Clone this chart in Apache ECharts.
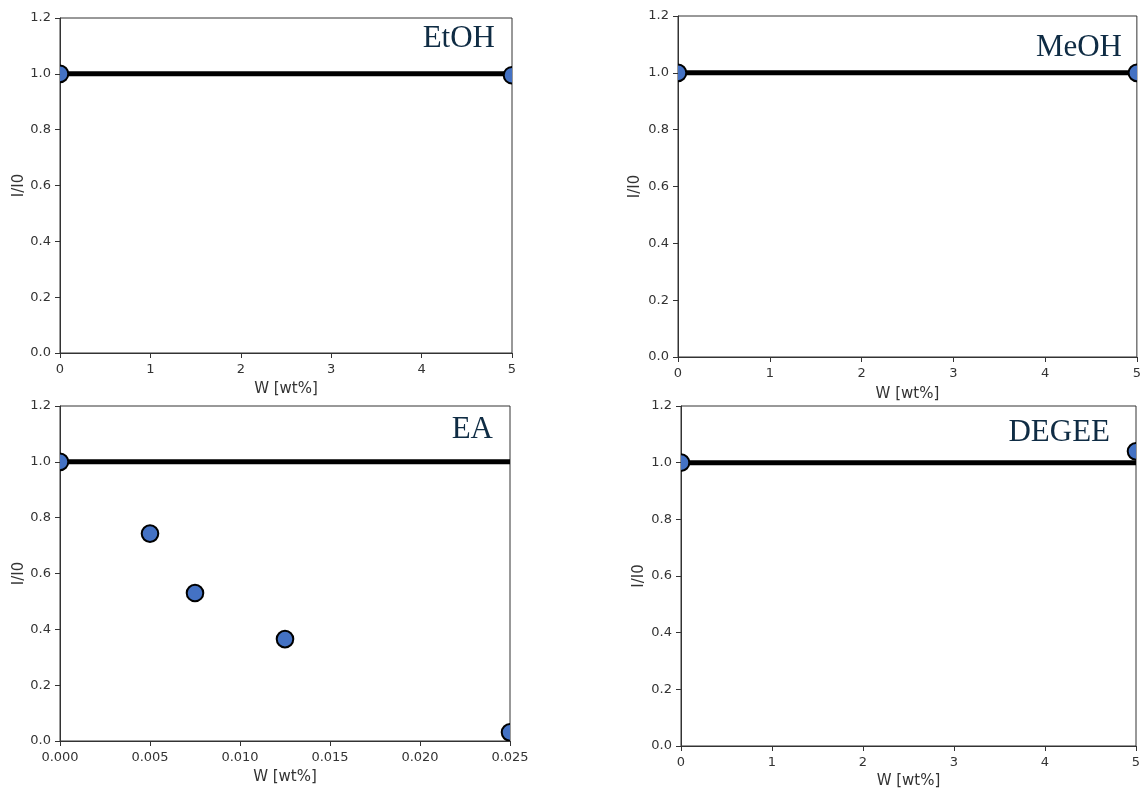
<!DOCTYPE html>
<html>
<head>
<meta charset="utf-8">
<script src="https://cdn.jsdelivr.net/npm/echarts@6/dist/echarts.min.js"></script>
<style>
html,body{margin:0;padding:0;background:#fff;}
#c{width:1144px;height:791px;}
</style>
</head>
<body>
<div id="c"></div>
<script>
// ---- data ----
const panelNames = ['EtOH', 'MeOH', 'EA', 'DEGEE'];
const etohX = [0, 5];
const etohY = [1.0, 0.995];
const meohX = [0, 5];
const meohY = [1.0, 1.0];
const eaX = [0, 0.005, 0.0075, 0.0125, 0.025];
const eaY = [1.0, 0.743, 0.53, 0.365, 0.031];
const degeeX = [0, 5];
const degeeY = [1.0, 1.04];
const refLevel = 1.0;
const xMaxWt = 5, xIntervalWt = 1;
const xMaxEA = 0.025, xIntervalEA = 0.005;
const yMax = 1.2, yInterval = 0.2;
const xName = 'W [wt%]';
const yName = 'I/I0';

// ---- layout ----
const grids = [
  {left: 60, top: 18, width: 452, height: 335},
  {left: 678, top: 16, width: 460, height: 341},
  {left: 60, top: 406, width: 450, height: 335},
  {left: 681, top: 406, width: 455, height: 340}
];
const xNameGaps = [29, 30, 29, 28];
const yNameGaps = [33, 35, 33, 34];
const titlePos = [[495, 39], [1122, 48], [493, 430], [1110, 432.5]];

const panelX = [etohX, meohX, eaX, degeeX];
const panelY = [etohY, meohY, eaY, degeeY];
const panelXMax = [xMaxWt, xMaxWt, xMaxEA, xMaxWt];
const panelXInt = [xIntervalWt, xIntervalWt, xIntervalEA, xIntervalWt];
const panelXDec = [0, 0, 3, 0];

const axisColor = '#333';
const labelFont = 'DejaVu Sans';

const option = {
  animation: false,
  backgroundColor: '#fff',
  grid: grids.map(g => Object.assign({show: true, borderColor: axisColor, borderWidth: 1, backgroundColor: 'transparent'}, g)),
  xAxis: grids.map((g, i) => ({
    type: 'value', gridIndex: i, min: 0, max: panelXMax[i], interval: panelXInt[i],
    name: xName, nameLocation: 'middle', nameGap: xNameGaps[i],
    nameTextStyle: {fontFamily: labelFont, fontSize: 15, color: axisColor},
    axisLine: {show: true, lineStyle: {color: axisColor, width: 1}},
    axisTick: {show: true, length: 5, inside: false, lineStyle: {color: axisColor}},
    axisLabel: {fontFamily: labelFont, fontSize: 13, color: axisColor, margin: 10,
      formatter: v => Number(v).toFixed(panelXDec[i])},
    splitLine: {show: false}
  })),
  yAxis: grids.map((g, i) => ({
    type: 'value', gridIndex: i, min: 0, max: yMax, interval: yInterval,
    name: yName, nameLocation: 'middle', nameGap: yNameGaps[i],
    nameTextStyle: {fontFamily: labelFont, fontSize: 15, color: axisColor},
    axisLine: {show: true, lineStyle: {color: axisColor, width: 1}},
    axisTick: {show: true, length: 5, inside: false, lineStyle: {color: axisColor}},
    axisLabel: {fontFamily: labelFont, fontSize: 13, color: axisColor, margin: 9,
      formatter: v => Number(v).toFixed(1)},
    splitLine: {show: false}
  })),
  graphic: panelNames.map((n, i) => ({
    type: 'text', x: titlePos[i][0], y: titlePos[i][1], z: 100,
    style: {text: n, fontFamily: 'Liberation Serif', fontSize: 31, fill: '#0f2c44',
      align: 'right', verticalAlign: 'middle'}
  })),
  series: []
};

panelNames.forEach((n, i) => {
  option.series.push({
    type: 'line', xAxisIndex: i, yAxisIndex: i, symbol: 'none', z: 2,
    lineStyle: {color: '#000', width: 5},
    data: [[0, refLevel], [panelXMax[i], refLevel]]
  });
  option.series.push({
    type: 'custom', xAxisIndex: i, yAxisIndex: i, clip: true, z: 3,
    data: panelX[i].map((x, k) => [x, panelY[i][k]]),
    renderItem: (params, api) => {
      const p = api.coord([api.value(0), api.value(1)]);
      return {type: 'circle', shape: {cx: p[0], cy: p[1], r: 8.3},
        style: {fill: '#4472c4', stroke: '#000', lineWidth: 2}};
    }
  });
});

const chart = echarts.init(document.getElementById('c'), null, {renderer: 'canvas'});
chart.setOption(option);
</script>
</body>
</html>
